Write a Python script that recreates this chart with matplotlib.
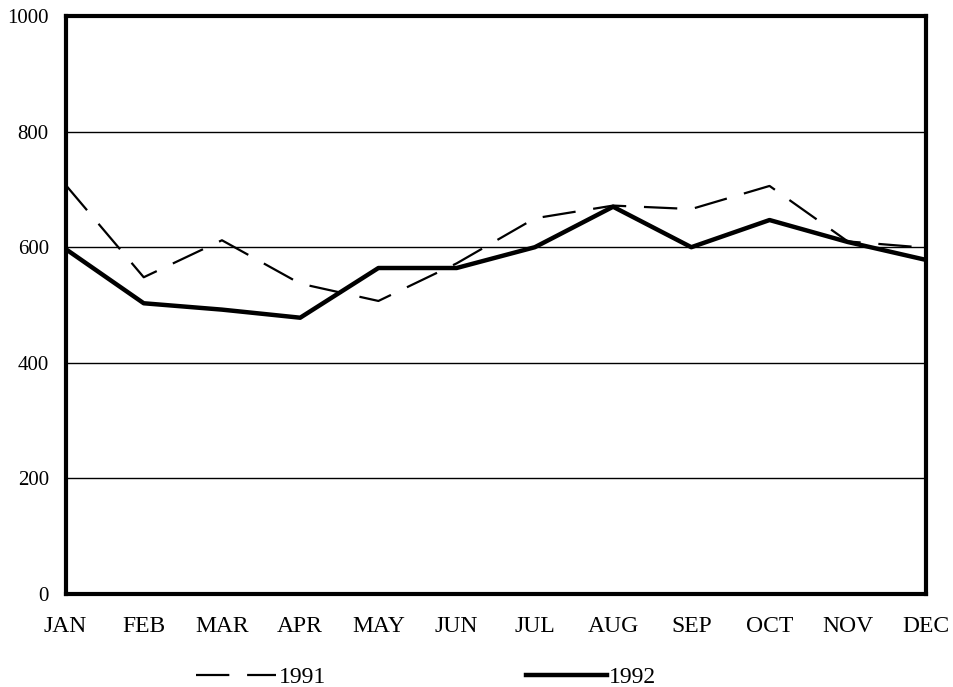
import matplotlib
matplotlib.use('Agg')
import matplotlib.pyplot as plt
import numpy as np

months = ['JAN', 'FEB', 'MAR', 'APR', 'MAY', 'JUN', 'JUL', 'AUG', 'SEP', 'OCT', 'NOV', 'DEC']
sales_1991 = [708, 548, 612, 537, 507, 572, 650, 672, 666, 706, 610, 599]
sales_1992 = [597, 503, 492, 478, 564, 564, 600, 670, 600, 647, 609, 578]
y_ticks = [0, 200, 400, 600, 800, 1000]

plt.rcParams['font.family'] = ['Liberation Serif', 'DejaVu Serif']

fig = plt.figure(figsize=(9.54, 6.87), dpi=100)
ax = fig.add_axes([65.5 / 954, 1 - 594 / 687, (926 - 65.5) / 954, (594 - 16) / 687])

x = np.arange(len(months))
ax.plot(x, sales_1991, color='black', linewidth=1.6, dashes=(15, 8), label='1991')
ax.plot(x, sales_1992, color='black', linewidth=3.2, label='1992')

ax.set_xlim(0, len(months) - 1)
ax.set_ylim(0, 1000)
ax.set_xticks(x)
ax.set_xticklabels(months, fontsize=17)
ax.set_yticks(y_ticks)
ax.set_yticklabels([str(v) for v in y_ticks], fontsize=15)
ax.tick_params(axis='x', length=0, pad=16)
ax.tick_params(axis='y', length=0, pad=12)
ax.grid(axis='y', color='black', linewidth=1.0)
ax.set_axisbelow(True)
for s in ax.spines.values():
    s.set_linewidth(3)
    s.set_color('black')

fig.legend(loc='center', bbox_to_anchor=(426 / 954, 1 - 677 / 687), ncol=2,
           frameon=False, fontsize=17, handlelength=3.4, handletextpad=0.1,
           columnspacing=8.5)

fig.savefig('out.png', dpi=100)
